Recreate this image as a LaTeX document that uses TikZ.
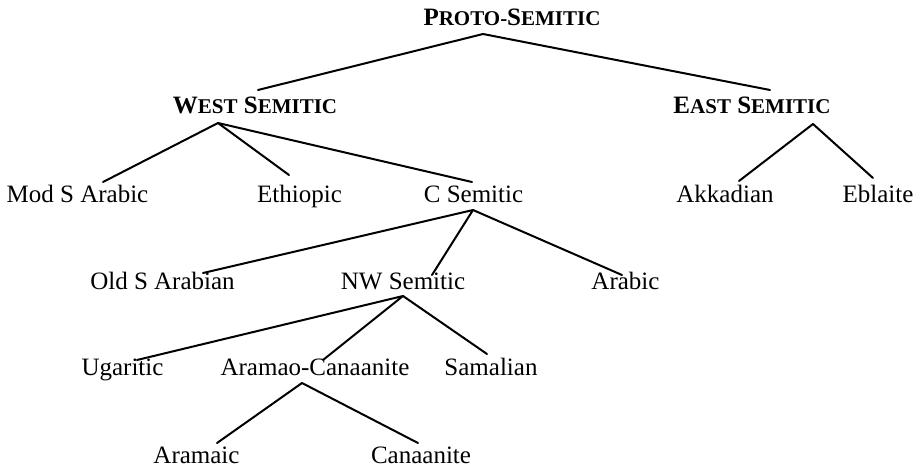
\documentclass[tikz,border=0pt]{standalone}
\usepackage{fontspec}
\setmainfont{Liberation Serif}
\newcommand\smc[1]{{\fontsize{21}{22}\selectfont #1}}
\begin{document}
\begin{tikzpicture}[x=1pt,y=-1pt,
  lbl/.style={anchor=base,inner sep=0pt,font=\fontsize{25}{30}\selectfont},
  hd/.style={anchor=base,inner sep=0pt,font=\fontsize{25}{30}\selectfont\bfseries},
  br/.style={line width=2pt,line cap=round,line join=round}]
\useasboundingbox (0,0) rectangle (918,471);
% nodes
\node[hd] (proto) at (512,25) {P\smc{ROTO-}S\smc{EMITIC}};
\node[hd] (west) at (255,113) {W\smc{EST} S\smc{EMITIC}};
\node[hd] (east) at (752,113) {E\smc{AST} S\smc{EMITIC}};
\node[lbl] (modsa) at (77.5,202) {Mod S Arabic};
\node[lbl] (ethi) at (299.5,202) {Ethiopic};
\node[lbl] (csem) at (473.5,202) {C Semitic};
\node[lbl] (akk) at (725,202) {Akkadian};
\node[lbl] (ebl) at (878,202) {Eblaite};
\node[lbl] (olds) at (162.5,289) {Old S Arabian};
\node[lbl] (nwsem) at (403,289) {NW Semitic};
\node[lbl] (arabic) at (625.5,289) {Arabic};
\node[lbl] (ugar) at (122.5,375) {Ugaritic};
\node[lbl] (aramcan) at (315,375) {Aramao-Canaanite};
\node[lbl] (samal) at (491,375) {Samalian};
\node[lbl] (aramaic) at (196.5,463) {Aramaic};
\node[lbl] (canaan) at (421,463) {Canaanite};
% branch points
\coordinate (proto-b) at (483,34);
\coordinate (west-t) at (258,90);
\coordinate (east-t) at (770,90);
\coordinate (west-b) at (218,123);
\coordinate (modsa-t) at (103,182);
\coordinate (ethi-t) at (289,175);
\coordinate (csem-t) at (472,182);
\coordinate (east-b) at (813,124);
\coordinate (akk-t) at (739,181);
\coordinate (ebl-t) at (873,178);
\coordinate (csem-b) at (473,210);
\coordinate (olds-t) at (203,273);
\coordinate (nwsem-t) at (432,275);
\coordinate (arabic-t) at (622,275);
\coordinate (nwsem-b) at (403,296);
\coordinate (ugar-t) at (137,360);
\coordinate (aramcan-t) at (323,360);
\coordinate (samal-t) at (487,354);
\coordinate (aramcan-b) at (302,383);
\coordinate (aramaic-t) at (217,443);
\coordinate (canaan-t) at (418,443);
% connectors
\draw[br] (west-t) -- (proto-b) -- (east-t);
\draw[br] (modsa-t) -- (west-b) -- (ethi-t);
\draw[br] (west-b) -- (csem-t);
\draw[br] (akk-t) -- (east-b) -- (ebl-t);
\draw[br] (olds-t) -- (csem-b) -- (nwsem-t);
\draw[br] (csem-b) -- (arabic-t);
\draw[br] (ugar-t) -- (nwsem-b) -- (aramcan-t);
\draw[br] (nwsem-b) -- (samal-t);
\draw[br] (aramaic-t) -- (aramcan-b) -- (canaan-t);
\end{tikzpicture}
\end{document}
